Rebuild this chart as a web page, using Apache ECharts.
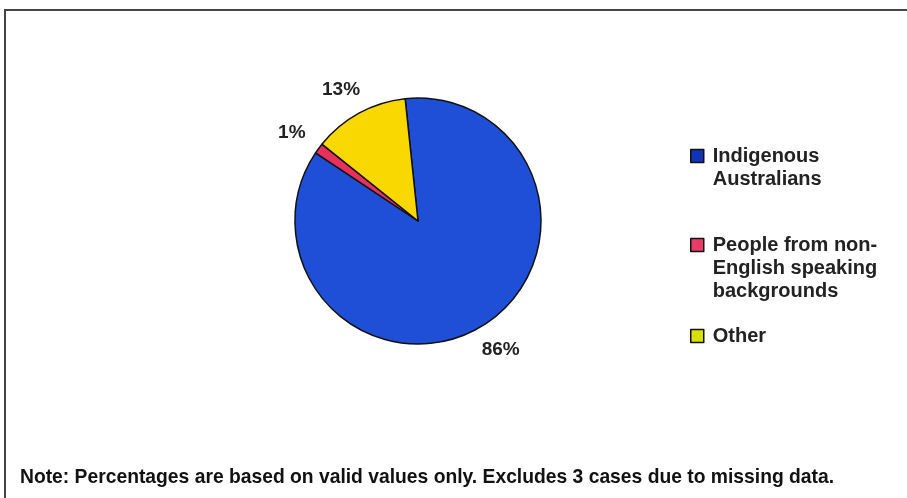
<!DOCTYPE html>
<html>
<head>
<meta charset="utf-8">
<script src="https://cdn.jsdelivr.net/npm/echarts@6/dist/echarts.min.js"></script>
<style>
  html, body { margin: 0; padding: 0; background: #fff; }
  #frame { position: relative; width: 907px; height: 498px; overflow: hidden; }
  #chart { position: absolute; left: 0; top: 0; width: 907px; height: 498px; }
</style>
</head>
<body>
<div id="frame"><div id="chart"></div></div>
<script>
// groups and shares (%)
var categories = ['Indigenous\nAustralians', 'People from non-\nEnglish speaking\nbackgrounds', 'Other'];
var shares = [86.0, 1.4, 12.6];
var colors = ['#1f4fd6', '#e8305a', '#f8d800'];
var iconColors = ['#1233b8', '#e83b66', '#d8e000'];
var note = 'Note: Percentages are based on valid values only. Excludes 3 cases due to missing data.';

var font = '"Liberation Sans", Arial, sans-serif';
var lineH = 23;

// one legend per entry so the gaps can follow the original layout;
// blank lines above the text keep the icon level with the first line
var legendTops = [156, 245, 336];
var legends = categories.map(function (name, i) {
  var lines = name.split('\n');
  var n = lines.length;
  return {
    orient: 'vertical',
    left: 690,
    top: legendTops[i] - (2 * n - 1) * lineH / 2,
    padding: 0,
    itemWidth: 13,
    itemHeight: 13,
    itemGap: 0,
    selectedMode: false,
    data: [{
      name: name,
      icon: 'rect',
      itemStyle: { color: iconColors[i], borderColor: '#111', borderWidth: 1.5 }
    }],
    formatter: function () {
      var out = [];
      for (var k = 1; k < n; k++) out.push('{t| }');
      lines.forEach(function (l) { out.push('{t|' + l + '}'); });
      return out.join('\n');
    },
    textStyle: {
      fontFamily: font, fontWeight: 'bold', fontSize: 20, lineHeight: lineH, color: '#222',
      rich: { t: { fontFamily: font, fontWeight: 'bold', fontSize: 20, lineHeight: lineH, color: '#222', padding: [0, 0, 0, 4] } }
    }
  };
});

var chart = echarts.init(document.getElementById('chart'));
chart.setOption({
  animation: false,
  color: colors,
  legend: legends,
  graphic: [
    { type: 'rect', shape: { x: 5, y: 10, width: 1000, height: 600 },
      style: { fill: 'none', stroke: '#444', lineWidth: 2 } },
    { type: 'text', left: 20, top: 468,
      style: { text: note, font: 'bold 19.3px "Liberation Sans", Arial, sans-serif', fill: '#111' } }
  ],
  series: [{
    type: 'pie',
    center: [418, 221],
    radius: 123,
    startAngle: 96,
    clockwise: true,
    percentPrecision: 0,
    avoidLabelOverlap: false,
    itemStyle: { borderColor: '#111', borderWidth: 1.5 },
    label: {
      position: 'outside',
      formatter: '{d}%',
      fontFamily: font, fontWeight: 'bold', fontSize: 19, color: '#222'
    },
    labelLine: { show: false, length: 27, length2: 0 },
    labelLayout: { align: 'center' },
    emphasis: { disabled: true },
    data: categories.map(function (c, i) { return { name: c, value: shares[i] }; })
  }]
});
</script>
</body>
</html>
